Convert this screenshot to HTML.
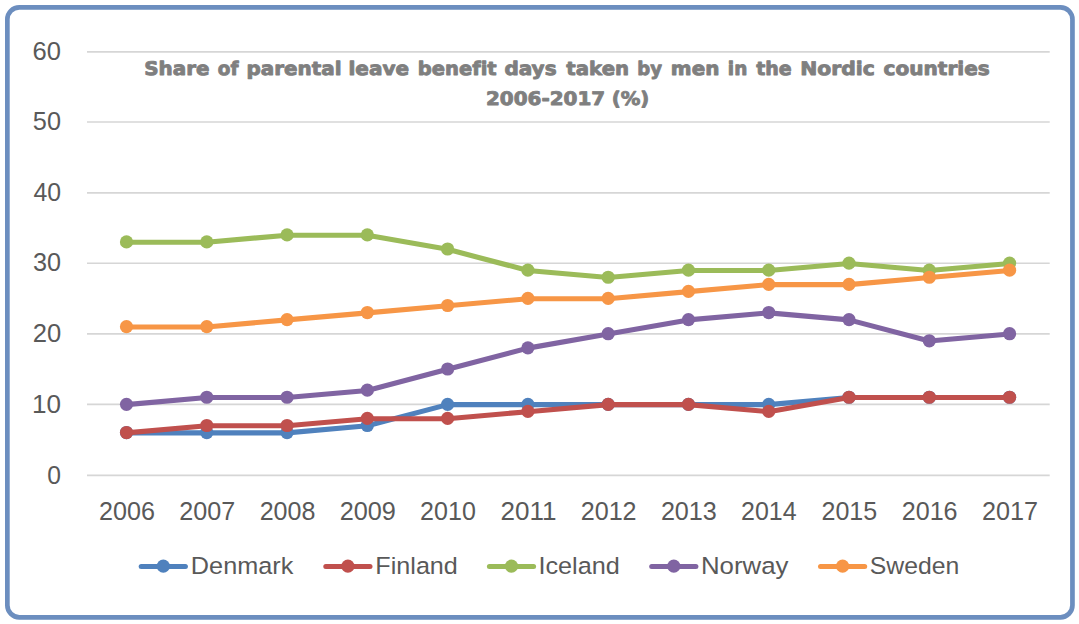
<!DOCTYPE html>
<html lang="en">
<head>
<meta charset="utf-8">
<title>Share of parental leave benefit days taken by men in the Nordic countries 2006-2017 (%)</title>
<style>
html,body{margin:0;padding:0;background:#fff;}
body{width:1079px;height:624px;overflow:hidden;}
svg{display:block;}
text{font-family:"Liberation Sans",sans-serif;}
.ax{font-size:25.8px;fill:#595959;}
.lg{font-size:24.5px;fill:#595959;}
.tt{font-family:"DejaVu Sans","Liberation Sans",sans-serif;font-size:18.7px;font-weight:bold;fill:#7f7f7f;stroke:#7f7f7f;stroke-width:0.9px;stroke-linejoin:round;text-rendering:geometricPrecision;font-variant-ligatures:none;font-feature-settings:"liga" 0,"clig" 0;}
</style>
</head>
<body>
<svg width="1079" height="624" viewBox="0 0 1079 624">
<rect x="0" y="0" width="1079" height="624" fill="#ffffff"/>
<rect x="7.35" y="7.35" width="1065.1" height="609.95" rx="12" ry="12" fill="#ffffff" stroke="#6c8ebf" stroke-width="4.7"/>
<g stroke="#d6d6d6" stroke-width="1.6">
<line x1="87.0" y1="475.40" x2="1049.7" y2="475.40"/>
<line x1="87.0" y1="404.35" x2="1049.7" y2="404.35"/>
<line x1="87.0" y1="333.90" x2="1049.7" y2="333.90"/>
<line x1="87.0" y1="263.20" x2="1049.7" y2="263.20"/>
<line x1="87.0" y1="192.90" x2="1049.7" y2="192.90"/>
<line x1="87.0" y1="122.00" x2="1049.7" y2="122.00"/>
<line x1="87.0" y1="51.85" x2="1049.7" y2="51.85"/>
</g>
<text class="tt" y="75.00"><tspan x="144.18" textLength="65.29" lengthAdjust="spacingAndGlyphs">Share</tspan> <tspan x="217.80" textLength="20.70" lengthAdjust="spacingAndGlyphs">of</tspan> <tspan x="246.59" textLength="95.03" lengthAdjust="spacingAndGlyphs">parental</tspan> <tspan x="348.44" textLength="60.68" lengthAdjust="spacingAndGlyphs">leave</tspan> <tspan x="417.80" textLength="78.88" lengthAdjust="spacingAndGlyphs">benefit</tspan> <tspan x="504.43" textLength="52.14" lengthAdjust="spacingAndGlyphs">days</tspan> <tspan x="566.36" textLength="62.71" lengthAdjust="spacingAndGlyphs">taken</tspan> <tspan x="637.34" textLength="24.70" lengthAdjust="spacingAndGlyphs">by</tspan> <tspan x="670.89" textLength="48.52" lengthAdjust="spacingAndGlyphs">men</tspan> <tspan x="727.82" textLength="19.45" lengthAdjust="spacingAndGlyphs">in</tspan> <tspan x="756.19" textLength="35.48" lengthAdjust="spacingAndGlyphs">the</tspan> <tspan x="800.26" textLength="74.63" lengthAdjust="spacingAndGlyphs">Nordic</tspan> <tspan x="883.47" textLength="106.34" lengthAdjust="spacingAndGlyphs">countries</tspan></text>
<text class="tt" y="105.00"><tspan x="485.95" textLength="119.21" lengthAdjust="spacingAndGlyphs">2006-2017</tspan> <tspan x="611.75" textLength="37.54" lengthAdjust="spacingAndGlyphs">(%)</tspan></text>
<text class="ax" x="47.20" y="483.60" textLength="13.74" lengthAdjust="spacingAndGlyphs">0</text>
<text class="ax" x="32.00" y="412.55" textLength="29.03" lengthAdjust="spacingAndGlyphs">10</text>
<text class="ax" x="32.73" y="342.10" textLength="28.48" lengthAdjust="spacingAndGlyphs">20</text>
<text class="ax" x="32.88" y="271.40" textLength="28.09" lengthAdjust="spacingAndGlyphs">30</text>
<text class="ax" x="33.40" y="201.10" textLength="27.64" lengthAdjust="spacingAndGlyphs">40</text>
<text class="ax" x="32.82" y="130.20" textLength="28.14" lengthAdjust="spacingAndGlyphs">50</text>
<text class="ax" x="32.56" y="60.05" textLength="28.46" lengthAdjust="spacingAndGlyphs">60</text>
<text class="ax" x="99.04" y="520.20" textLength="55.93" lengthAdjust="spacingAndGlyphs">2006</text>
<text class="ax" x="179.29" y="520.20" textLength="55.93" lengthAdjust="spacingAndGlyphs">2007</text>
<text class="ax" x="259.65" y="520.20" textLength="55.77" lengthAdjust="spacingAndGlyphs">2008</text>
<text class="ax" x="339.72" y="520.20" textLength="56.21" lengthAdjust="spacingAndGlyphs">2009</text>
<text class="ax" x="420.09" y="520.20" textLength="55.76" lengthAdjust="spacingAndGlyphs">2010</text>
<text class="ax" x="500.40" y="520.20" textLength="56.05" lengthAdjust="spacingAndGlyphs">2011</text>
<text class="ax" x="580.68" y="520.20" textLength="55.93" lengthAdjust="spacingAndGlyphs">2012</text>
<text class="ax" x="660.88" y="520.20" textLength="55.99" lengthAdjust="spacingAndGlyphs">2013</text>
<text class="ax" x="741.10" y="520.20" textLength="55.55" lengthAdjust="spacingAndGlyphs">2014</text>
<text class="ax" x="821.47" y="520.20" textLength="55.71" lengthAdjust="spacingAndGlyphs">2015</text>
<text class="ax" x="901.71" y="520.20" textLength="55.89" lengthAdjust="spacingAndGlyphs">2016</text>
<text class="ax" x="981.97" y="520.20" textLength="56.12" lengthAdjust="spacingAndGlyphs">2017</text>
<text class="lg" x="190.89" y="574.00" textLength="102.43" lengthAdjust="spacingAndGlyphs">Denmark</text>
<text class="lg" x="375.36" y="574.00" textLength="82.49" lengthAdjust="spacingAndGlyphs">Finland</text>
<text class="lg" x="538.47" y="574.00" textLength="81.32" lengthAdjust="spacingAndGlyphs">Iceland</text>
<text class="lg" x="700.90" y="574.00" textLength="87.51" lengthAdjust="spacingAndGlyphs">Norway</text>
<text class="lg" x="869.83" y="574.00" textLength="89.58" lengthAdjust="spacingAndGlyphs">Sweden</text>
<g fill="#4f81bd">
<polyline points="126.50,432.84 206.78,432.84 287.06,432.84 367.34,425.79 447.62,404.61 527.90,404.61 608.18,404.61 688.46,404.61 768.74,404.61 849.02,397.55 929.30,397.55 1009.58,397.55" fill="none" stroke="#4f81bd" stroke-width="5.1" stroke-linecap="round" stroke-linejoin="round"/>
<circle cx="126.50" cy="432.54" r="6.6"/>
<circle cx="206.78" cy="432.54" r="6.6"/>
<circle cx="287.06" cy="432.54" r="6.6"/>
<circle cx="367.34" cy="425.49" r="6.6"/>
<circle cx="447.62" cy="404.31" r="6.6"/>
<circle cx="527.90" cy="404.31" r="6.6"/>
<circle cx="608.18" cy="404.31" r="6.6"/>
<circle cx="688.46" cy="404.31" r="6.6"/>
<circle cx="768.74" cy="404.31" r="6.6"/>
<circle cx="849.02" cy="397.25" r="6.6"/>
<circle cx="929.30" cy="397.25" r="6.6"/>
<circle cx="1009.58" cy="397.25" r="6.6"/>
</g>
<g fill="#c0504d">
<polyline points="126.50,432.84 206.78,425.79 287.06,425.79 367.34,418.73 447.62,418.73 527.90,411.67 608.18,404.61 688.46,404.61 768.74,411.67 849.02,397.55 929.30,397.55 1009.58,397.55" fill="none" stroke="#c0504d" stroke-width="5.1" stroke-linecap="round" stroke-linejoin="round"/>
<circle cx="126.50" cy="432.54" r="6.6"/>
<circle cx="206.78" cy="425.49" r="6.6"/>
<circle cx="287.06" cy="425.49" r="6.6"/>
<circle cx="367.34" cy="418.43" r="6.6"/>
<circle cx="447.62" cy="418.43" r="6.6"/>
<circle cx="527.90" cy="411.37" r="6.6"/>
<circle cx="608.18" cy="404.31" r="6.6"/>
<circle cx="688.46" cy="404.31" r="6.6"/>
<circle cx="768.74" cy="411.37" r="6.6"/>
<circle cx="849.02" cy="397.25" r="6.6"/>
<circle cx="929.30" cy="397.25" r="6.6"/>
<circle cx="1009.58" cy="397.25" r="6.6"/>
</g>
<g fill="#9bbb59">
<polyline points="126.50,242.25 206.78,242.25 287.06,235.19 367.34,235.19 447.62,249.31 527.90,270.48 608.18,277.54 688.46,270.48 768.74,270.48 849.02,263.43 929.30,270.48 1009.58,263.43" fill="none" stroke="#9bbb59" stroke-width="5.1" stroke-linecap="round" stroke-linejoin="round"/>
<circle cx="126.50" cy="241.95" r="6.6"/>
<circle cx="206.78" cy="241.95" r="6.6"/>
<circle cx="287.06" cy="234.89" r="6.6"/>
<circle cx="367.34" cy="234.89" r="6.6"/>
<circle cx="447.62" cy="249.01" r="6.6"/>
<circle cx="527.90" cy="270.18" r="6.6"/>
<circle cx="608.18" cy="277.24" r="6.6"/>
<circle cx="688.46" cy="270.18" r="6.6"/>
<circle cx="768.74" cy="270.18" r="6.6"/>
<circle cx="849.02" cy="263.12" r="6.6"/>
<circle cx="929.30" cy="270.18" r="6.6"/>
<circle cx="1009.58" cy="263.12" r="6.6"/>
</g>
<g fill="#8064a2">
<polyline points="126.50,404.61 206.78,397.55 287.06,397.55 367.34,390.49 447.62,369.31 527.90,348.13 608.18,334.02 688.46,319.90 768.74,312.84 849.02,319.90 929.30,341.08 1009.58,334.02" fill="none" stroke="#8064a2" stroke-width="5.1" stroke-linecap="round" stroke-linejoin="round"/>
<circle cx="126.50" cy="404.31" r="6.6"/>
<circle cx="206.78" cy="397.25" r="6.6"/>
<circle cx="287.06" cy="397.25" r="6.6"/>
<circle cx="367.34" cy="390.19" r="6.6"/>
<circle cx="447.62" cy="369.01" r="6.6"/>
<circle cx="527.90" cy="347.83" r="6.6"/>
<circle cx="608.18" cy="333.72" r="6.6"/>
<circle cx="688.46" cy="319.60" r="6.6"/>
<circle cx="768.74" cy="312.54" r="6.6"/>
<circle cx="849.02" cy="319.60" r="6.6"/>
<circle cx="929.30" cy="340.78" r="6.6"/>
<circle cx="1009.58" cy="333.72" r="6.6"/>
</g>
<g fill="#f79646">
<polyline points="126.50,326.96 206.78,326.96 287.06,319.90 367.34,312.84 447.62,305.78 527.90,298.72 608.18,298.72 688.46,291.66 768.74,284.60 849.02,284.60 929.30,277.54 1009.58,270.48" fill="none" stroke="#f79646" stroke-width="5.1" stroke-linecap="round" stroke-linejoin="round"/>
<circle cx="126.50" cy="326.66" r="6.6"/>
<circle cx="206.78" cy="326.66" r="6.6"/>
<circle cx="287.06" cy="319.60" r="6.6"/>
<circle cx="367.34" cy="312.54" r="6.6"/>
<circle cx="447.62" cy="305.48" r="6.6"/>
<circle cx="527.90" cy="298.42" r="6.6"/>
<circle cx="608.18" cy="298.42" r="6.6"/>
<circle cx="688.46" cy="291.36" r="6.6"/>
<circle cx="768.74" cy="284.30" r="6.6"/>
<circle cx="849.02" cy="284.30" r="6.6"/>
<circle cx="929.30" cy="277.24" r="6.6"/>
<circle cx="1009.58" cy="270.18" r="6.6"/>
</g>
<line x1="141.2" y1="566.4" x2="185.4" y2="566.4" stroke="#4f81bd" stroke-width="5" stroke-linecap="round"/>
<circle cx="163.3" cy="566.1999999999999" r="6.6" fill="#4f81bd"/>
<line x1="325.8" y1="566.4" x2="370.0" y2="566.4" stroke="#c0504d" stroke-width="5" stroke-linecap="round"/>
<circle cx="347.9" cy="566.1999999999999" r="6.6" fill="#c0504d"/>
<line x1="489.4" y1="566.4" x2="533.6" y2="566.4" stroke="#9bbb59" stroke-width="5" stroke-linecap="round"/>
<circle cx="511.5" cy="566.1999999999999" r="6.6" fill="#9bbb59"/>
<line x1="651.7" y1="566.4" x2="695.9" y2="566.4" stroke="#8064a2" stroke-width="5" stroke-linecap="round"/>
<circle cx="673.8" cy="566.1999999999999" r="6.6" fill="#8064a2"/>
<line x1="820.5" y1="566.4" x2="864.7" y2="566.4" stroke="#f79646" stroke-width="5" stroke-linecap="round"/>
<circle cx="842.6" cy="566.1999999999999" r="6.6" fill="#f79646"/>
</svg>
</body>
</html>
